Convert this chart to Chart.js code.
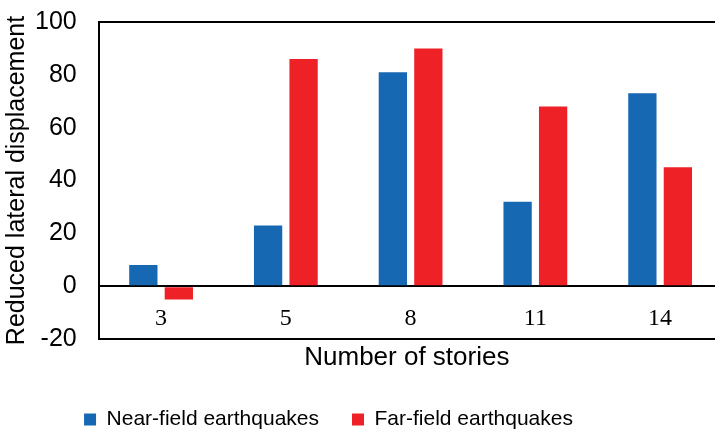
<!DOCTYPE html>
<html>
<head>
<meta charset="utf-8">
<script src="https://cdn.jsdelivr.net/npm/chart.js@4.4.1/dist/chart.umd.min.js"></script>
<style>
  html, body { margin: 0; padding: 0; background: #ffffff; }
  #wrap { width: 715px; height: 432px; }
</style>
</head>
<body>
<div id="wrap"><canvas id="c" width="715" height="432"></canvas></div>
<script>
// Number of stories of each building model
const stories = ['3', '5', '8', '11', '14'];
// Reduction of lateral displacement per record set
const nearField = [8, 23, 81, 32, 73];
const farField = [-5, 86, 90, 68, 45];
// Value axis limits
const yMin = -20;
const yMax = 100;
const yStep = 20;

const sans = "'Liberation Sans', Arial, sans-serif";
const serif = "'Liberation Serif', 'Times New Roman', serif";

// After layout: shift the legend row sideways and let the category
// axis run a little past the right edge of the canvas
const layoutTweaks = {
  id: 'layoutTweaks',
  afterLayout(chart, args, opts) {
    const lg = chart.legend;
    if (lg) { lg.left += opts.legendDx; lg.right += opts.legendDx; }
    const x = chart.scales.x;
    if (x) {
      x.right += opts.xExtend;
      x.width += opts.xExtend;
      x.configure();
    }
  }
};

new Chart(document.getElementById('c'), {
  type: 'bar',
  data: {
    labels: stories,
    datasets: [
      { label: 'Near-field earthquakes', data: nearField, backgroundColor: '#1668B2', xAxisID: 'x' },
      { label: 'Far-field earthquakes', data: farField, backgroundColor: '#EE2226', xAxisID: 'x' }
    ]
  },
  options: {
    responsive: false,
    animation: false,
    categoryPercentage: 0.569,
    barPercentage: 0.797,
    layout: { padding: { left: 2, right: 0, top: 22, bottom: -8 } },
    plugins: {
      legend: {
        position: 'bottom',
        labels: {
          font: { family: sans, size: 21 },
          color: '#000',
          boxWidth: 12,
          boxHeight: 12,
          padding: 33
        }
      },
      layoutTweaks: { legendDx: -30, xExtend: 7.5 },
      tooltip: { enabled: false }
    },
    scales: {
      x: {
        type: 'category',
        position: { y: 0 },
        grid: { display: false, drawTicks: false },
        border: { display: true, color: '#000', width: 2 },
        ticks: { font: { family: serif, size: 24 }, color: '#000', padding: 18 }
      },
      xt: {
        type: 'category',
        position: 'bottom',
        grid: { display: false, drawTicks: false },
        border: { display: false },
        ticks: { display: false },
        title: {
          display: true,
          text: 'Number of stories',
          font: { family: sans, size: 26 },
          color: '#000',
          padding: { top: 3, bottom: 2.8 }
        }
      },
      y: {
        min: yMin,
        max: yMax,
        ticks: {
          stepSize: yStep,
          font: { family: sans, size: 25 },
          color: '#000',
          padding: 0
        },
        grid: {
          drawTicks: true,
          tickLength: 22,
          tickColor: 'rgba(0,0,0,0)',
          color: (ctx) => (ctx.tick && [yMin, 0, yMax].includes(ctx.tick.value)) ? '#000' : 'rgba(0,0,0,0)',
          lineWidth: 2
        },
        border: { display: true, color: '#000', width: 2 },
        title: {
          display: true,
          text: 'Reduced lateral displacement',
          font: { family: sans, size: 25 },
          color: '#000',
          padding: { top: 0, bottom: 3 }
        }
      }
    }
  },
  plugins: [layoutTweaks]
});
</script>
</body>
</html>
